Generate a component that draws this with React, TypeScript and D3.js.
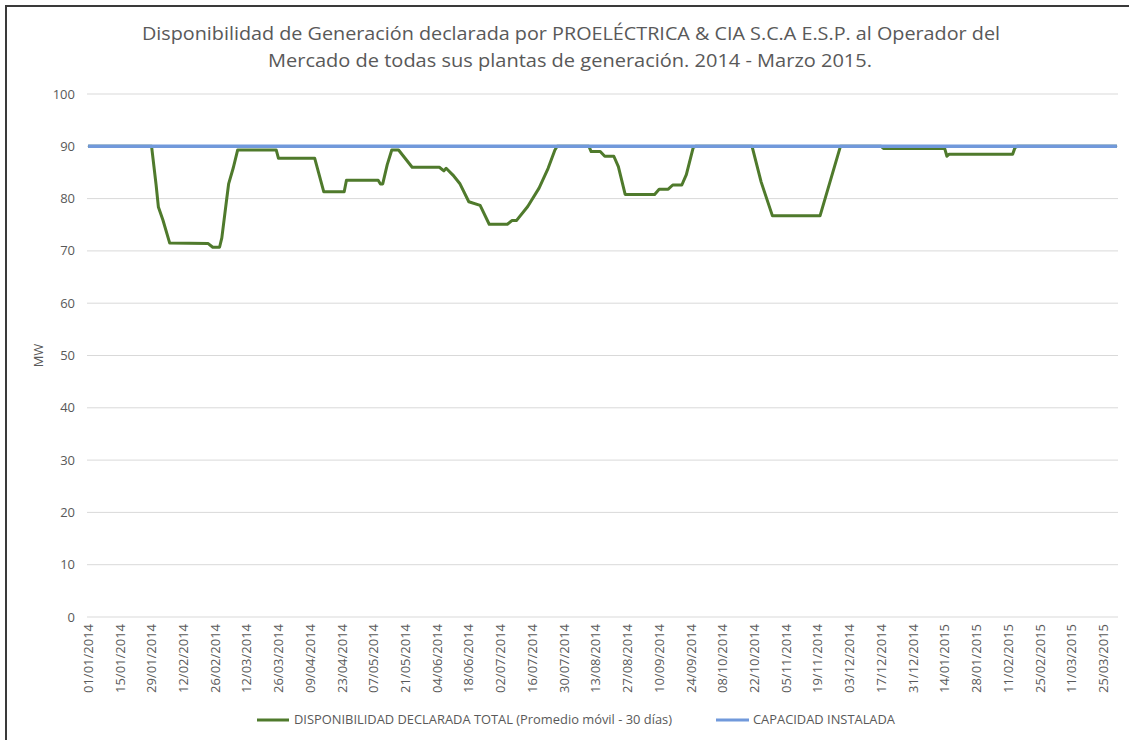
import React from 'react';
import * as d3 from 'd3';

const dispDates = [
  '01/01/2014', '29/01/2014', '31/01/2014', '01/02/2014', '03/02/2014', '06/02/2014',
  '23/02/2014', '25/02/2014', '28/02/2014', '01/03/2014', '03/03/2014', '04/03/2014',
  '06/03/2014', '08/03/2014', '25/03/2014', '26/03/2014', '11/04/2014', '15/04/2014',
  '24/04/2014', '25/04/2014', '09/05/2014', '10/05/2014', '11/05/2014', '13/05/2014',
  '15/05/2014', '18/05/2014', '24/05/2014', '05/06/2014', '07/06/2014', '08/06/2014',
  '11/06/2014', '14/06/2014', '18/06/2014', '23/06/2014', '27/06/2014', '05/07/2014',
  '07/07/2014', '09/07/2014', '14/07/2014', '19/07/2014', '23/07/2014', '26/07/2014',
  '27/07/2014', '10/08/2014', '11/08/2014', '15/08/2014', '17/08/2014', '21/08/2014',
  '23/08/2014', '26/08/2014', '08/09/2014', '10/09/2014', '14/09/2014', '16/09/2014',
  '20/09/2014', '22/09/2014', '25/09/2014', '26/09/2014', '21/10/2014', '25/10/2014',
  '30/10/2014', '20/11/2014', '29/11/2014', '17/12/2014', '18/12/2014', '14/01/2015',
  '15/01/2015', '16/01/2015', '13/02/2015', '14/02/2015', '15/02/2015', '31/03/2015',
];
const dispValues = [
  90, 90, 82.6, 78.4, 75.9, 71.5,
  71.4, 70.7, 70.7, 72.5, 79.4, 82.8,
  85.8, 89.3, 89.3, 87.7, 87.7, 81.3,
  81.3, 83.5, 83.5, 82.8, 82.8, 86.5,
  89.3, 89.3, 86.0, 86.0, 85.3, 85.8,
  84.5, 82.9, 79.4, 78.7, 75.1, 75.1,
  75.8, 75.8, 78.5, 82.0, 85.8, 89.3,
  90, 90, 89.0, 89.0, 88.1, 88.1,
  86.1, 80.8, 80.8, 81.8, 81.8, 82.6,
  82.6, 84.6, 89.7, 90, 90, 83.2,
  76.7, 76.7, 90, 90, 89.6, 89.6,
  88.1, 88.5, 88.5, 89.7, 90, 90,
];

const capDates = ['01/01/2014', '31/03/2015'];
const capValues = [90, 90];

const xTickLabels = [
  '01/01/2014', '15/01/2014', '29/01/2014', '12/02/2014', '26/02/2014', '12/03/2014',
  '26/03/2014', '09/04/2014', '23/04/2014', '07/05/2014', '21/05/2014', '04/06/2014',
  '18/06/2014', '02/07/2014', '16/07/2014', '30/07/2014', '13/08/2014', '27/08/2014',
  '10/09/2014', '24/09/2014', '08/10/2014', '22/10/2014', '05/11/2014', '19/11/2014',
  '03/12/2014', '17/12/2014', '31/12/2014', '14/01/2015', '28/01/2015', '11/02/2015',
  '25/02/2015', '11/03/2015', '25/03/2015',
];
const yTicks = [0, 10, 20, 30, 40, 50, 60, 70, 80, 90, 100];

const titleLines = [
  'Disponibilidad de Generación declarada por PROELÉCTRICA & CIA S.C.A E.S.P. al Operador del',
  'Mercado de todas sus plantas de generación. 2014 - Marzo 2015.',
];
const legendDisp = 'DISPONIBILIDAD DECLARADA TOTAL (Promedio móvil - 30 días)';
const legendCap = 'CAPACIDAD INSTALADA';

const W = 1129;
const H = 740;
const FONT = '"Open Sans", "Noto Sans", sans-serif';
const TEXT = '#595959';
const GREEN = '#4f7a2c';
const BLUE = '#7199db';

const parse = d3.utcParse('%d/%m/%Y');
const HALF_DAY = 12 * 3600 * 1000;

export default function App() {
  const first = parse(dispDates[0])!;
  const last = parse(dispDates[dispDates.length - 1])!;

  const x = d3.scaleUtc()
    .domain([new Date(+first - HALF_DAY), new Date(+last + HALF_DAY)])
    .range([87, 1118]);
  const y = d3.scaleLinear().domain([0, 100]).range([617, 94]);

  const line = d3.line<[Date, number]>()
    .x(d => x(d[0]))
    .y(d => y(d[1]));

  const dispPts = dispDates.map((d, i) => [parse(d)!, dispValues[i]] as [Date, number]);
  const capPts = capDates.map((d, i) => [parse(d)!, capValues[i]] as [Date, number]);

  const [x0, x1] = x.range();

  return (
    <svg width={W} height={H} style={{ position: 'absolute', left: 0, top: 0, background: '#fff' }}
      fontFamily={FONT}>
      <rect x={0} y={0} width={W} height={H} fill="#fff" />
      <rect x={6} y={6} width={W + 40} height={H + 40} fill="none" stroke="#3a3a3a" strokeWidth={2} />

      {/* título */}
      <text x={571} y={40} textAnchor="middle" fontSize={18} fill={TEXT}
        textLength={858} lengthAdjust="spacingAndGlyphs">{titleLines[0]}</text>
      <text x={570} y={67} textAnchor="middle" fontSize={18} fill={TEXT}
        textLength={604} lengthAdjust="spacingAndGlyphs">{titleLines[1]}</text>

      {/* rejilla y eje Y */}
      {yTicks.map(t => (
        <g key={t}>
          <line x1={x0} x2={x1} y1={y(t)} y2={y(t)} stroke="#d9d9d9" strokeWidth={1} />
          <text x={75} y={y(t)} dy="0.35em" textAnchor="end" fontSize={13} fill={TEXT}>{t}</text>
        </g>
      ))}
      <text transform={`translate(38,${y(50)}) rotate(-90)`} dy="0.35em" textAnchor="middle"
        fontSize={13} fill={TEXT}>MW</text>

      {/* eje X */}
      {xTickLabels.map(lbl => (
        <text key={lbl} transform={`translate(${x(parse(lbl)!)},624) rotate(-90)`} dy="0.36em"
          textAnchor="end" fontSize={13} fill={TEXT}>{lbl}</text>
      ))}

      {/* series */}
      <path d={line(dispPts) || ''} fill="none" stroke={GREEN} strokeWidth={3}
        strokeLinejoin="round" />
      <path d={line(capPts) || ''} fill="none" stroke={BLUE} strokeWidth={3.5} />

      {/* leyenda */}
      <line x1={257} x2={289} y1={720} y2={720} stroke={GREEN} strokeWidth={3} />
      <text x={294} y={720} dy="0.35em" fontSize={12} fill={TEXT}
        textLength={378} lengthAdjust="spacingAndGlyphs">{legendDisp}</text>
      <line x1={716} x2={749} y1={720} y2={720} stroke={BLUE} strokeWidth={3} />
      <text x={753} y={720} dy="0.35em" fontSize={12} fill={TEXT}
        textLength={142} lengthAdjust="spacingAndGlyphs">{legendCap}</text>
    </svg>
  );
}
